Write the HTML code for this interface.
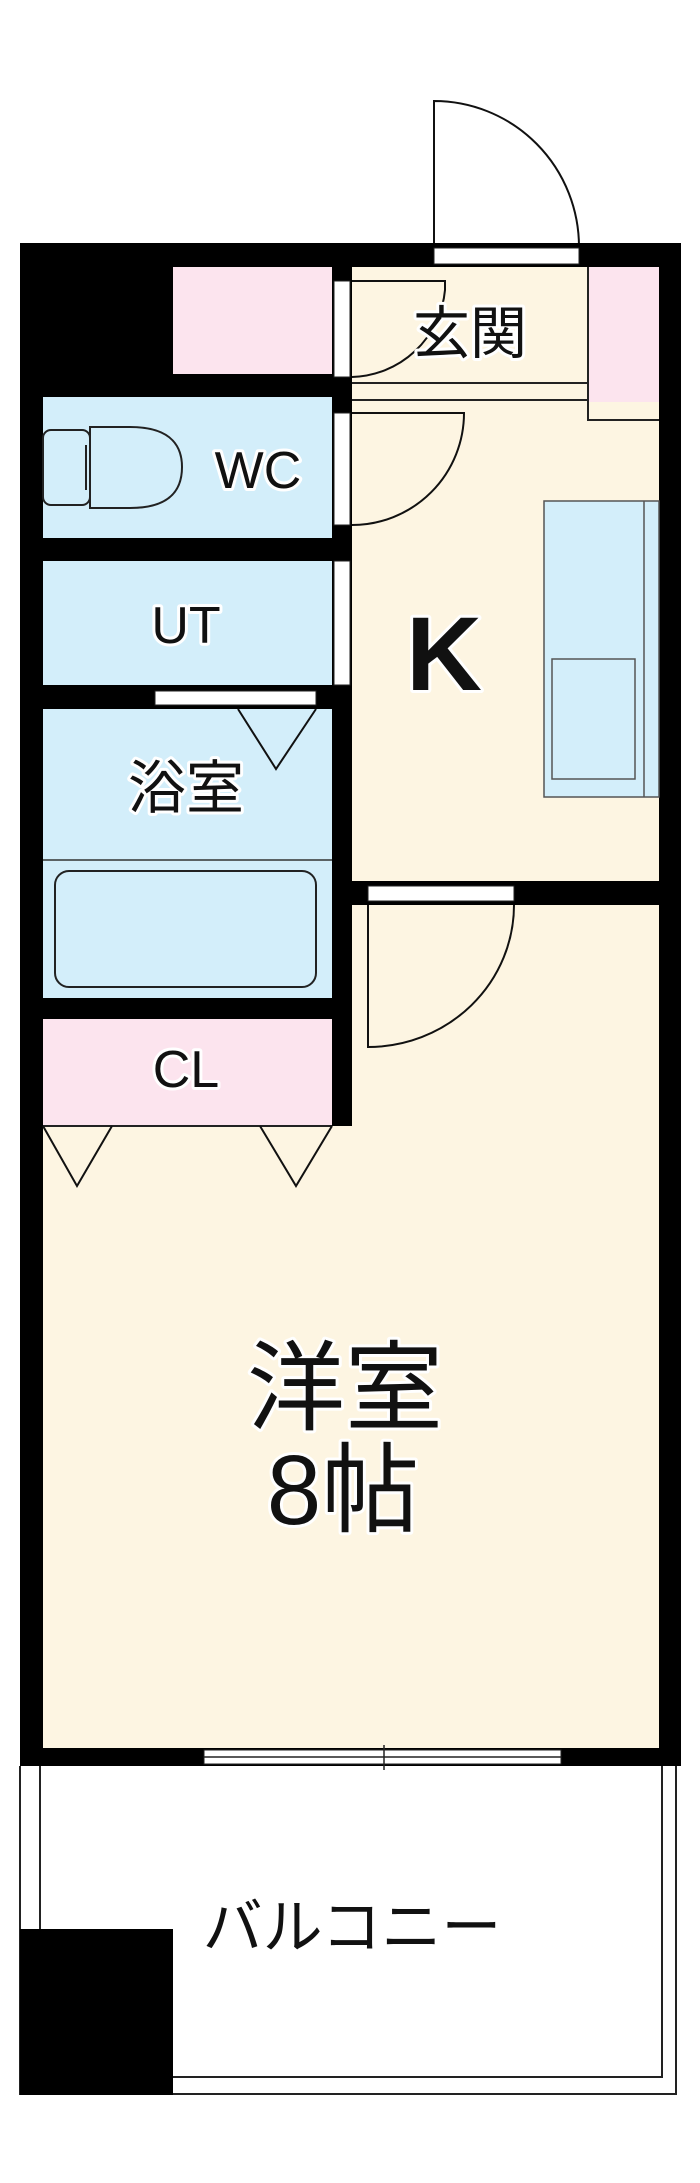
<!DOCTYPE html>
<html><head><meta charset="utf-8"><style>
html,body{margin:0;padding:0;background:#fff;}
svg{display:block}
text{font-family:"Liberation Sans","Noto Sans CJK JP",sans-serif;fill:#111;paint-order:stroke;stroke:#fff;stroke-width:6px;stroke-linejoin:round;text-anchor:middle;}
</style></head><body>
<svg width="700" height="2183" viewBox="0 0 700 2183" xmlns="http://www.w3.org/2000/svg">
<path d="M434,247 L434,101 A145,146 0 0 1 579,247" fill="#fff" stroke="#111" stroke-width="2"/>
<rect x="20" y="1766" width="659" height="328" fill="#fff"/>
<path d="M20,1766 V2094 H676 V1766 M40,1766 V2077 H662 V1766" fill="none" stroke="#222" stroke-width="2"/>
<rect x="20" y="1929" width="153" height="166" fill="#000"/>
<rect x="20" y="243" width="661" height="1523" fill="#000"/>
<rect x="173" y="267" width="159" height="107" fill="#fce4ee"/>
<rect x="352" y="267" width="236" height="135" fill="#fdf5e2"/>
<rect x="588" y="267" width="71" height="153" fill="#fce4ee"/>
<rect x="352" y="402" width="307" height="479" fill="#fdf5e2"/>
<rect x="588" y="420" width="71" height="10" fill="#fdf5e2"/>
<rect x="43" y="397" width="289" height="141" fill="#d3eefa"/>
<rect x="43" y="561" width="289" height="124" fill="#d3eefa"/>
<rect x="43" y="709" width="289" height="289" fill="#d3eefa"/>
<rect x="43" y="1019" width="289" height="107" fill="#fce4ee"/>
<rect x="352" y="905" width="307" height="843" fill="#fdf5e2"/>
<rect x="43" y="1126" width="616" height="622" fill="#fdf5e2"/>
<path d="M352,383 H588 M352,400 H588 M588,267 V420 H659" fill="none" stroke="#222" stroke-width="2"/>
<rect x="334" y="281" width="16" height="96" fill="#fff" stroke="#222" stroke-width="1"/>
<rect x="334" y="413" width="16" height="112" fill="#fff" stroke="#222" stroke-width="1"/>
<rect x="334" y="561" width="16" height="124" fill="#fff" stroke="#222" stroke-width="1"/>
<rect x="434" y="248" width="145" height="16" fill="#fff" stroke="#222" stroke-width="1"/>
<rect x="155" y="691" width="161" height="14" fill="#fff" stroke="#222" stroke-width="1"/>
<rect x="368" y="886" width="146" height="15" fill="#fff" stroke="#222" stroke-width="1"/>
<rect x="204" y="1750" width="357" height="14" fill="#fff" stroke="#222" stroke-width="1"/>
<path d="M204,1757 H561 M384,1745 V1770" stroke="#222" stroke-width="1.5"/>
<path d="M352,281 H445 V290 A96,96 0 0 1 352,377" fill="none" stroke="#111" stroke-width="2"/>
<path d="M352,413 H464 A112,112 0 0 1 352,525" fill="none" stroke="#111" stroke-width="2"/>
<path d="M514,905 A146,142 0 0 1 368,1047 V905" fill="none" stroke="#111" stroke-width="2"/>
<path d="M238,709 L276,769 L316,709" fill="none" stroke="#111" stroke-width="2"/>
<path d="M43,860 H332" stroke="#333" stroke-width="1.5"/>
<rect x="55" y="871" width="261" height="116" rx="14" fill="#d3eefa" stroke="#222" stroke-width="2"/>
<path d="M90,427 H130 C175,427 182,450 182,467 C182,490 170,508 130,508 H90 Z" fill="#d3eefa" stroke="#222" stroke-width="2"/>
<rect x="43" y="430" width="47" height="75" rx="8" fill="#d3eefa" stroke="#222" stroke-width="2"/>
<path d="M86,445 V490" stroke="#222" stroke-width="2"/>
<rect x="544" y="501" width="115" height="296" fill="#d3eefa" stroke="#555" stroke-width="1.5"/>
<path d="M644,501 V797" stroke="#555" stroke-width="1.5"/>
<rect x="552" y="659" width="83" height="120" fill="#d3eefa" stroke="#555" stroke-width="1.5"/>
<path d="M43,1126 H332" stroke="#222" stroke-width="2"/>
<path d="M43,1126 L77,1186 L112,1126 M260,1126 L296,1186 L332,1126" fill="none" stroke="#111" stroke-width="2"/>
<text x="470" y="353" font-size="57">玄関</text>
<text x="258" y="488" font-size="52">WC</text>
<text x="186" y="643" font-size="52">UT</text>
<text x="444" y="690" font-size="105" font-weight="bold">K</text>
<text x="186" y="808" font-size="58">浴室</text>
<text x="186" y="1087" font-size="52">CL</text>
<text x="345" y="1422" font-size="98">洋室</text>
<text x="343" y="1524" font-size="98">8帖</text>
<text x="352" y="1948" font-size="60">バルコニー</text>
</svg>
</body></html>
